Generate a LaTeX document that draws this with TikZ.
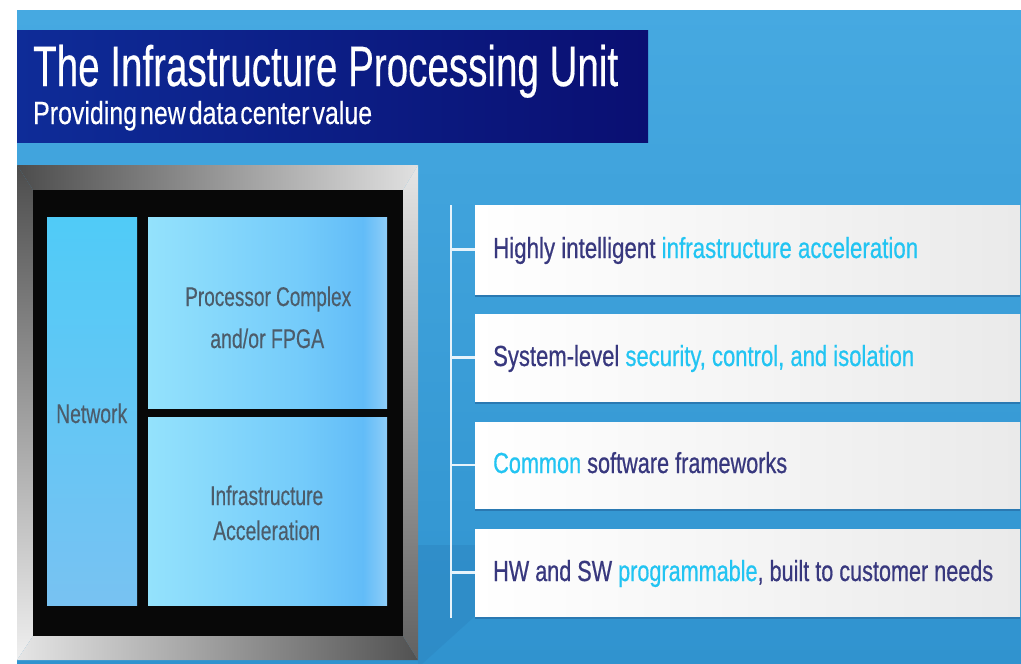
\documentclass[tikz,border=0pt]{standalone}
\usepackage{fontspec}
\setmainfont{Liberation Sans}
\newfontfamily\medfont[FakeBold=0.7]{Liberation Sans}
\newfontfamily\semifont[FakeBold=0.4]{Liberation Sans}
\usepackage{graphicx}
\newlength\fitlen
\newcommand\fitw[2]{\settowidth\fitlen{#2}\pgfmathsetmacro\fitfac{#1/\fitlen}\scalebox{\fitfac}[1]{#2}}
\definecolor{bgtop}{HTML}{46A9E1}
\definecolor{bgbot}{HTML}{3093CF}
\definecolor{bgdark}{HTML}{2C84BF}
\definecolor{navyL}{HTML}{0E2C98}
\definecolor{navyR}{HTML}{0A0F72}
\definecolor{dk}{HTML}{38387E}
\definecolor{cy}{HTML}{22C4F2}
\definecolor{boxtxt}{HTML}{4C5C6A}
\definecolor{pb1}{HTML}{94E2FC}
\definecolor{pb2}{HTML}{74CBFA}
\definecolor{pb3}{HTML}{62BCF8}
\definecolor{pb4}{HTML}{8DCDF8}
\definecolor{nt}{HTML}{50CBF7}
\definecolor{nm}{HTML}{58BCF2}
\definecolor{nb}{HTML}{78C2F2}
\definecolor{barR}{HTML}{EAEAEA}
\definecolor{barsh}{HTML}{2A79B2}
\definecolor{spinec}{HTML}{E6F3FB}
\pgfdeclarehorizontalshading{boxsh}{100bp}{color(0bp)=(pb1); color(25bp)=(pb1); color(57bp)=(pb2); color(70bp)=(pb3); color(75bp)=(pb4); color(100bp)=(pb4)}
\tikzset{
  lbl/.style={inner sep=0pt, anchor=base west, text=boxtxt, font=\semifont\fontsize{27}{27}\selectfont},
  rtxt/.style={inner sep=0pt, anchor=base west, text=dk, font=\medfont\fontsize{29}{29}\selectfont},
  barbox/.style={rectangle, inner sep=0pt, minimum width=545pt, left color=white, right color=barR},
  pbox/.style={rectangle, inner sep=0pt, shading=boxsh},
  spine/.style={draw=spinec, line width=2.5pt},
}
\begin{document}
\begin{tikzpicture}[x=1pt,y=-1pt]
\useasboundingbox (0,0) rectangle (1021,664);
\fill[white] (0,0) rectangle (1021,664);
% blue background
\shade[top color=bgtop, bottom color=bgbot] (17,10) rectangle (1021,664);
\fill[bgdark, opacity=0.45] (418,545) -- (495,545) -- (495,598) -- (422,664) -- (418,664) -- cycle;
% title band
\shade[left color=navyL, right color=navyR] (17,30) rectangle (648,142);
\node[inner sep=0pt, anchor=base west, text=white, font=\semifont\fontsize{57}{57}\selectfont] (ttl) at (33,86) {\fitw{585}{The Infrastructure Processing Unit}};
\node[inner sep=0pt, anchor=base west, text=white, font=\semifont\fontsize{32}{32}\selectfont] (sub) at (33,124) {\spaceskip=0.12em\fitw{339}{Providing new data center value}};
% chip frame
\shade[left color=black!70, middle color=white!95!black, right color=black!12] (17,165) -- (418,165) -- (403,190) -- (33,190) -- cycle;
\shade[top color=black!70, middle color=black!20, bottom color=black!6] (17,165) -- (33,190) -- (33,636) -- (17,660) -- cycle;
\shade[left color=black!10, middle color=black!18, right color=black!68] (17,660) -- (33,636) -- (403,636) -- (418,660) -- cycle;
\shade[top color=black!10, middle color=black!32, bottom color=black!62] (418,165) -- (403,190) -- (403,636) -- (418,660) -- cycle;
\fill[black!97] (33,190) rectangle (403,636);
% inner blocks
\node[rectangle, inner sep=0pt, minimum width=90pt, minimum height=388pt, top color=nt, middle color=nm, bottom color=nb] (net) at (92,411) {};
\node[pbox, minimum width=239pt, minimum height=191pt] (proc) at (267.5,312.5) {};
\node[pbox, minimum width=239pt, minimum height=188pt] (acc) at (267.5,511) {};
\node[lbl] (pl1) at (185,306) {\fitw{166}{Processor Complex}};
\node[lbl] (pl2) at (210,348) {\fitw{114}{and/or FPGA}};
\node[lbl] (nl) at (56,423) {\fitw{71}{Network}};
\node[lbl] (al1) at (210,505) {\fitw{113}{Infrastructure}};
\node[lbl] (al2) at (213,540) {\fitw{107}{Acceleration}};
% bar shadows
\fill[barsh] (475,208) rectangle (1020,297);
\fill[barsh] (475,317) rectangle (1020,404);
\fill[barsh] (475,425) rectangle (1020,511);
\fill[barsh] (475,532) rectangle (1020,619);
% bars
\node[barbox, minimum height=89pt] (b1) at (747.5,249.5) {};
\node[barbox, minimum height=87pt] (b2) at (747.5,357.5) {};
\node[barbox, minimum height=86pt] (b3) at (747.5,465) {};
\node[barbox, minimum height=87pt] (b4) at (747.5,572.5) {};
% spine and ticks
\coordinate (sTop) at (451,205);
\coordinate (sBot) at (451,618);
\draw[spine] (sTop) -- (sBot);
\draw[spine] (b1.west -| sTop) -- (b1.west);
\draw[spine] (b2.west -| sTop) -- (b2.west);
\draw[spine] (b3.west -| sTop) -- (b3.west);
\draw[spine] (b4.west -| sTop) -- (b4.west);
% bar texts
\node[rtxt] (t1) at (493,258) {\fitw{425}{Highly intelligent \textcolor{cy}{infrastructure acceleration}}};
\node[rtxt] (t2) at (493,366) {\fitw{421}{System-level \textcolor{cy}{security, control, and isolation}}};
\node[rtxt] (t3) at (493,473) {\fitw{294}{\textcolor{cy}{Common} software frameworks}};
\node[rtxt] (t4) at (493,581) {\fitw{500}{HW and SW \textcolor{cy}{programmable}, built to customer needs}};
\end{tikzpicture}
\end{document}
